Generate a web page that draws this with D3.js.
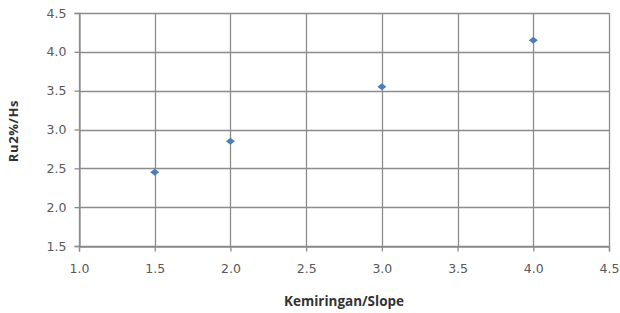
<!DOCTYPE html>
<html>
<head>
<meta charset="utf-8">
<script src="https://cdn.jsdelivr.net/npm/d3@7.9.0/dist/d3.min.js"></script>
<style>
  body { margin: 0; background: #fff; }
  .tick text { font-family: "DejaVu Sans", Verdana, sans-serif; font-size: 12.5px; fill: #595959; }
  .title { font-family: "Open Sans", "Liberation Sans", sans-serif; font-weight: bold; fill: #333; }
</style>
</head>
<body>
<svg id="chart" width="620" height="313"></svg>
<script>
// data
const slope = [1.5, 2.0, 3.0, 4.0];
const runup = [2.45, 2.85, 3.55, 4.15];
const xTicks = [1.0, 1.5, 2.0, 2.5, 3.0, 3.5, 4.0, 4.5];
const yTicks = [1.5, 2.0, 2.5, 3.0, 3.5, 4.0, 4.5];

const svg = d3.select('#chart');
const plotL = 79, plotR = 609, plotT = 13, plotB = 246;

const x = d3.scaleLinear().domain([1.0, 4.5]).range([plotL, plotR]);
const y = d3.scaleLinear().domain([1.5, 4.5]).range([plotB, plotT]);

const gridColor = '#8c8c8c';

// gridlines
svg.append('g')
  .selectAll('line')
  .data(yTicks)
  .join('line')
  .attr('x1', plotL).attr('x2', plotR)
  .attr('y1', d => Math.round(y(d)) + 0.5).attr('y2', d => Math.round(y(d)) + 0.5)
  .attr('stroke', gridColor).attr('stroke-width', 1.3);

svg.append('g')
  .selectAll('line')
  .data(xTicks)
  .join('line')
  .attr('y1', plotT).attr('y2', plotB)
  .attr('x1', d => Math.round(x(d)) + 0.5).attr('x2', d => Math.round(x(d)) + 0.5)
  .attr('stroke', gridColor).attr('stroke-width', 1.3);

// axes
const xAxis = svg.append('g')
  .attr('transform', `translate(0,${Math.round(y(1.5)) + 0.5})`)
  .call(d3.axisBottom(x).tickValues(xTicks).tickFormat(d3.format('.1f')).tickSize(5).tickPadding(13));
const yAxis = svg.append('g')
  .attr('transform', `translate(${Math.round(x(1.0)) + 0.5},0)`)
  .call(d3.axisLeft(y).tickValues(yTicks).tickFormat(d3.format('.1f')).tickSize(5).tickPadding(8));

[xAxis, yAxis].forEach(g => {
  g.select('.domain').attr('stroke', gridColor).attr('stroke-width', 1.3);
  g.selectAll('.tick line').attr('stroke', gridColor).attr('stroke-width', 1.3);
});

// points
svg.append('g')
  .selectAll('path')
  .data(slope.map((s, i) => [s, runup[i]]))
  .join('path')
  .attr('transform', d => `translate(${x(d[0])},${y(d[1])})`)
  .attr('d', 'M0,-3.5L4.5,0L0,3.5L-4.5,0Z')
  .attr('fill', '#4a7ebb');

// titles
svg.append('text')
  .attr('class', 'title')
  .attr('x', (plotL + plotR) / 2).attr('y', 306)
  .attr('text-anchor', 'middle')
  .attr('font-size', 13.5)
  .text('Kemiringan/Slope');

svg.append('text')
  .attr('class', 'title')
  .attr('transform', `translate(18,131) rotate(-90)`)
  .attr('text-anchor', 'middle')
  .attr('font-size', 13)
  .attr('letter-spacing', 0.6)
  .text('Ru2%/Hs');
</script>
</body>
</html>
